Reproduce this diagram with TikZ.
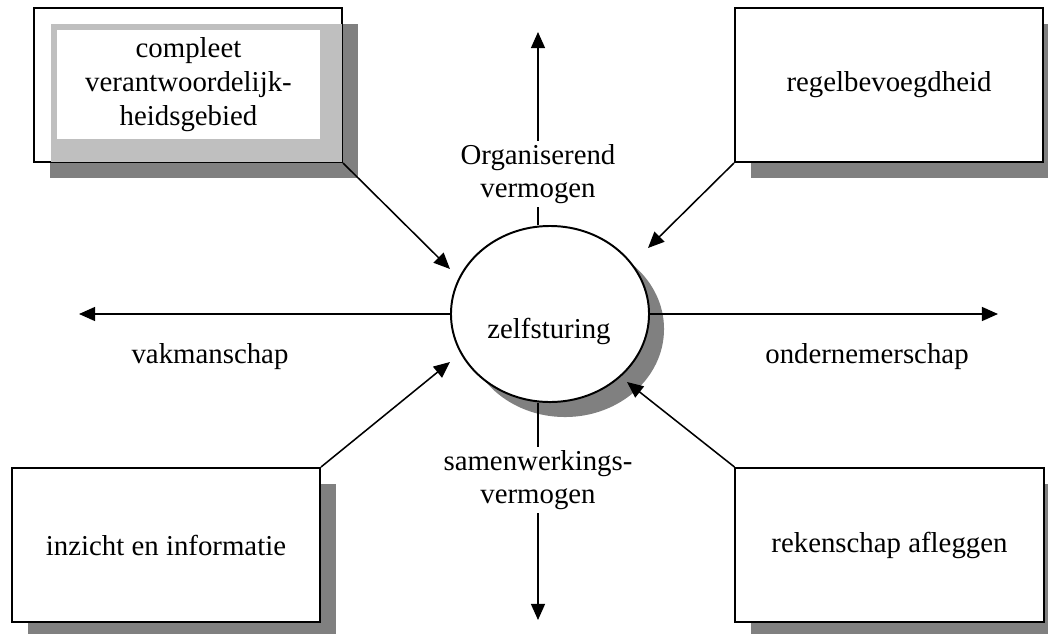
\documentclass[tikz,border=0pt]{standalone}
\usepackage{fontspec}
\setmainfont{Liberation Serif}
\usetikzlibrary{shapes.geometric,shadows,arrows.meta}

\begin{document}
\begin{tikzpicture}[x=0.025cm,y=-0.025cm,
  font=\fontsize{20.5}{24}\selectfont,
  box/.style={draw,line width=1.4pt,fill=white,minimum width=7.7cm,minimum height=3.85cm,align=center,
    drop shadow={shadow xshift=0.4cm,shadow yshift=-0.4cm,fill=black!50,opacity=1}},
  arr/.style={line width=1.1pt,-{Triangle[length=11.5pt,width=10pt]}},
  lbl/.style={align=center,inner sep=2pt}]
\useasboundingbox (0,0) rectangle (1048,633);
% de vier vakken
\node[box] (compl) at (188,85) {};
\fill[black!25] (51,24) rectangle ([xshift=-0.7pt,yshift=0.7pt]compl.south east);
\node[fill=white,minimum width=6.575cm,minimum height=2.725cm,align=center] (compltxt) at (188.5,84.5) {compleet\\verantwoordelijk-\\heidsgebied};
\node[box] (regel) at (889,85) {regelbevoegdheid};
\node[box] (inzicht) at (166,545) {inzicht en informatie};
\node[box] (reken) at (889.5,545) {rekenschap afleggen};
% midden
\node[draw,ellipse,line width=1.4pt,fill=white,minimum width=4.95cm,minimum height=4.4cm,
  drop shadow={shadow xshift=0.375cm,shadow yshift=-0.375cm,fill=black!50,opacity=1}] (zelf) at (550,314) {};
\node (zelftxt) at (549,331) {zelfsturing};
% assen
\node[lbl] (org) at (538,174) {Organiserend\\vermogen};
\node[lbl] (samen) at (538,480) {samenwerkings-\\vermogen};
\node (vak) at (210,357) {vakmanschap};
\node (onder) at (867,357) {ondernemerschap};
\coordinate (orgtip) at (538,32);
\coordinate (samentip) at (538,620);
\coordinate (vaktip) at (79,314);
\coordinate (ondertip) at (998,314);
\draw[line width=1.1pt] (org.south) -- (org.south |- zelf.north);
\draw[arr] (org.north) -- (orgtip);
\draw[line width=1.1pt] (samen.north) -- (samen.north |- zelf.south);
\draw[arr] (samen.south) -- (samentip);
\draw[arr] (zelf.west) -- (vaktip);
\draw[arr] (zelf.east) -- (ondertip);
% schuine pijlen
\coordinate (t1) at (450,269);
\coordinate (t2) at (648,248);
\coordinate (t3) at (450,362);
\coordinate (t4) at (627,382);
\draw[arr] (compl.south east) -- (t1);
\draw[arr] (regel.south west) -- (t2);
\draw[arr] (inzicht.north east) -- (t3);
\draw[arr] (reken.north west) -- (t4);
\end{tikzpicture}
\end{document}
